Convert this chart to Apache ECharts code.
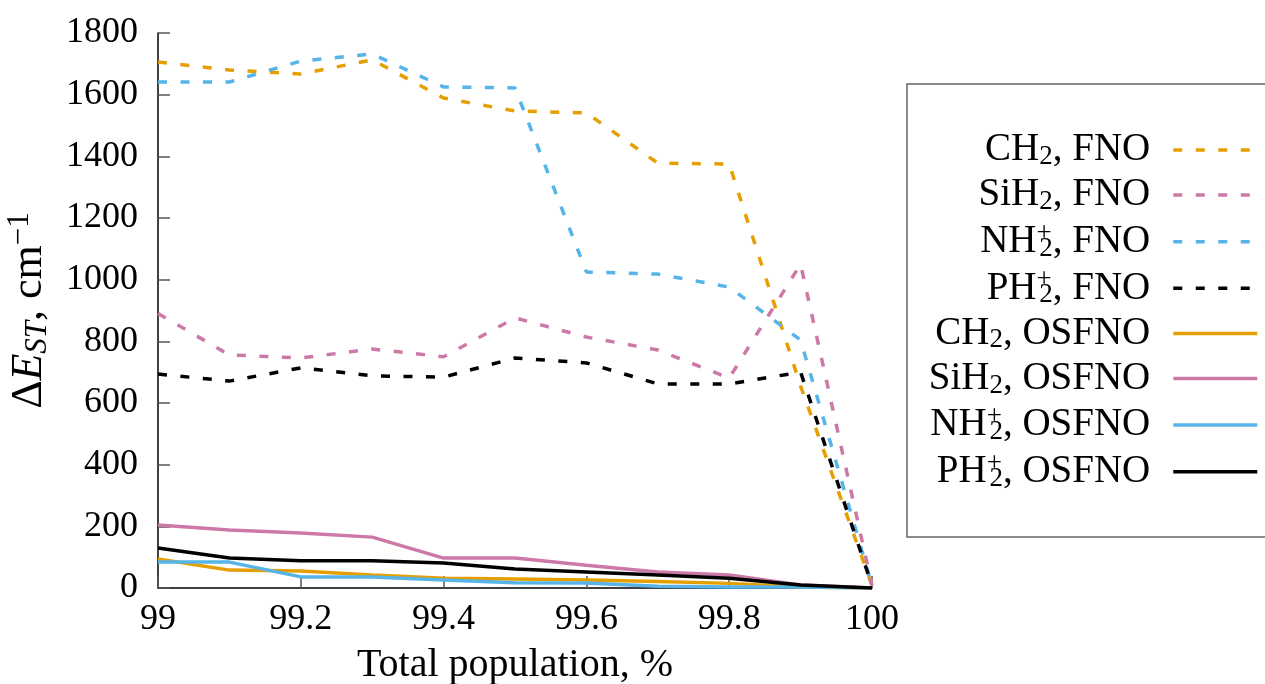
<!DOCTYPE html>
<html>
<head>
<meta charset="utf-8">
<script src="https://cdn.jsdelivr.net/npm/echarts@6/dist/echarts.min.js"></script>
<style>
html,body{margin:0;padding:0;background:#fff;}
#chart{width:1265px;height:684px;}
</style>
</head>
<body>
<div id="chart"></div>
<script>
// Total population, %
var xs = [99, 99.1, 99.2, 99.3, 99.4, 99.5, 99.6, 99.7, 99.8, 99.9, 100];
// ΔE_ST, cm^-1
var ch2Fno  = [1706, 1680, 1667, 1713, 1589, 1547, 1541, 1378, 1375, 655, 8];
var sih2Fno = [890, 756, 746, 775, 750, 876, 814, 772, 681, 1050, 8];
var nh2Fno  = [1641, 1641, 1709, 1732, 1625, 1622, 1025, 1018, 976, 804, 8];
var ph2Fno  = [694, 671, 714, 688, 684, 746, 730, 662, 662, 700, 8];
var ch2Os   = [94, 58, 55, 42, 32, 29, 26, 21, 15, 3, 0];
var sih2Os  = [204, 188, 178, 165, 97, 97, 74, 52, 42, 10, 0];
var nh2Os   = [84, 84, 36, 36, 26, 17, 16, 6, 3, 3, 0];
var ph2Os   = [130, 97, 88, 88, 81, 62, 52, 42, 32, 10, 0];

var seriesNames = ['CH2, FNO', 'SiH2, FNO', 'NH2+, FNO', 'PH2+, FNO',
                   'CH2, OSFNO', 'SiH2, OSFNO', 'NH2+, OSFNO', 'PH2+, OSFNO'];
var richNames = [
  'CH{sub|2}, FNO', 'SiH{sub|2}, FNO', 'NH{sup|+}{subz|2}, FNO', 'PH{sup|+}{subz|2}, FNO',
  'CH{sub|2}, OSFNO', 'SiH{sub|2}, OSFNO', 'NH{sup|+}{subz|2}, OSFNO', 'PH{sup|+}{subz|2}, OSFNO'
];
var seriesValues = [ch2Fno, sih2Fno, nh2Fno, ph2Fno, ch2Os, sih2Os, nh2Os, ph2Os];
var colors = ['#E69F00', '#CC79A7', '#56B4E9', '#000000', '#E69F00', '#CC79A7', '#56B4E9', '#000000'];
var dashed = [true, true, true, true, false, false, false, false];

var FONT = 'Liberation Serif';

var series = seriesNames.map(function (name, i) {
  return {
    name: name,
    type: 'line',
    symbol: 'none',
    showSymbol: false,
    data: xs.map(function (x, j) { return [x, seriesValues[i][j]]; }),
    lineStyle: { color: colors[i], width: 3.5, type: dashed[i] ? [9, 13.5] : 'solid' },
    itemStyle: { color: colors[i] },
    emphasis: { disabled: true },
    z: 2 + i
  };
});

var chart = echarts.init(document.getElementById('chart'), null, { renderer: 'canvas' });
chart.setOption({
  animation: false,
  backgroundColor: '#fff',
  grid: { left: 158, right: 393, top: 33, bottom: 96, containLabel: false, outerBoundsMode: 'none' },
  xAxis: {
    type: 'value', min: 99, max: 100, interval: 0.2,
    name: 'Total population, %',
    nameLocation: 'middle', nameGap: 57,
    nameTextStyle: { fontFamily: FONT, fontSize: 40, color: '#000' },
    axisLine: { show: true, lineStyle: { color: '#000', width: 1.5 } },
    axisTick: { show: true, inside: true, length: 12, lineStyle: { color: '#555', width: 1.5 } },
    axisLabel: { fontFamily: FONT, fontSize: 36, color: '#000', margin: 14,
      formatter: function (v) { return String(Math.round(v * 10) / 10); } },
    splitLine: { show: false }
  },
  yAxis: {
    type: 'value', min: 0, max: 1800, interval: 200,
    name: '{n|Δ}{i|E}{si|ST}{n|, cm}{sup|−1}',
    nameLocation: 'middle', nameGap: 87, nameRotate: 90,
    nameTextStyle: {
      fontFamily: FONT, fontSize: 44, color: '#000',
      rich: {
        n: { fontFamily: FONT, fontSize: 44, color: '#000', lineHeight: 48 },
        i: { fontFamily: FONT, fontSize: 44, fontStyle: 'italic', color: '#000', lineHeight: 48 },
        si: { fontFamily: FONT, fontSize: 31, fontStyle: 'italic', color: '#000', lineHeight: 48, padding: [16, 0, 0, 0] },
        sup: { fontFamily: FONT, fontSize: 31, color: '#000', lineHeight: 48, padding: [0, 0, 20, 0] }
      }
    },
    axisLine: { show: true, lineStyle: { color: '#000', width: 1.5 } },
    axisTick: { show: true, inside: true, length: 12, lineStyle: { color: '#555', width: 1.5 } },
    axisLabel: { fontFamily: FONT, fontSize: 36, color: '#000', margin: 20,
      formatter: function (v) { return String(v); } },
    splitLine: { show: false }
  },
  legend: {
    orient: 'vertical',
    align: 'right',
    right: 6,
    top: 130,
    padding: 0,
    itemGap: 4.6,
    itemWidth: 84,
    itemHeight: 14,
    selectedMode: false,
    itemStyle: { opacity: 0 },
    lineStyle: { width: 3.5 },
    data: seriesNames,
    formatter: function (name) { return richNames[seriesNames.indexOf(name)]; },
    textStyle: {
      fontFamily: FONT, fontSize: 39, color: '#000', lineHeight: 40,
      padding: [0, 18, 0, 0],
      rich: {
        sub: { fontFamily: FONT, fontSize: 27, color: '#000', lineHeight: 40, height: 20, padding: [14, 0, 0, 0] },
        subz: { fontFamily: FONT, fontSize: 27, color: '#000', lineHeight: 40, height: 20, width: 1, padding: [14, 0, 0, 0] },
        sup: { fontFamily: FONT, fontSize: 27, color: '#000', lineHeight: 40, height: 20, padding: [0, 0, 16, 0] }
      }
    }
  },
  graphic: [{
    type: 'rect',
    shape: { x: 907, y: 84, width: 420, height: 453 },
    style: { fill: 'none', stroke: '#666', lineWidth: 1.5 },
    silent: true,
    z: 0
  }],
  series: series
});
</script>
</body>
</html>
